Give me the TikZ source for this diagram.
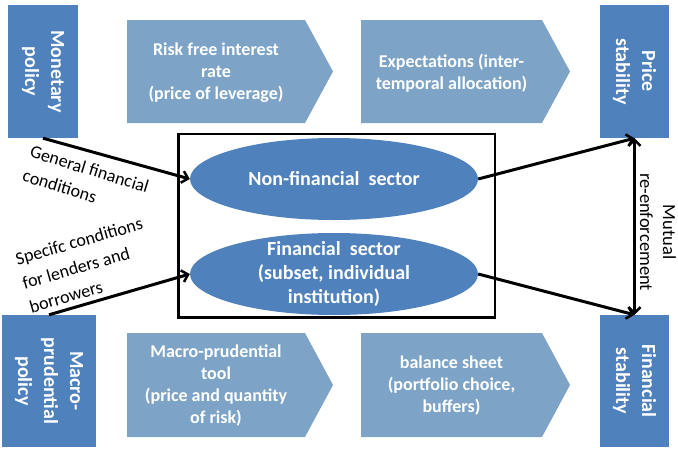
\documentclass[tikz,border=0pt]{standalone}
\usepackage{fontspec}
\setmainfont{Carlito}
\usetikzlibrary{arrows.meta,shapes.geometric}
\definecolor{boxblue}{RGB}{79,129,189}
\definecolor{chevblue}{RGB}{125,164,199}
\begin{document}
\begin{tikzpicture}[x=1pt,y=-1pt,
 pbox/.style={fill=boxblue, draw=none, rotate=-90, text=white, font=\fontsize{20}{26}\selectfont\bfseries, align=center, inner sep=0pt},
 chev/.style={fill=chevblue, draw=none},
 chevtext/.style={text=white, font=\fontsize{18}{22}\selectfont\bfseries, align=center, inner sep=0pt},
 sector/.style={ellipse, fill=boxblue, draw=none, minimum width=288pt, minimum height=82pt, inner sep=0pt},
 sectortext/.style={text=white, font=\fontsize{20}{24}\selectfont\bfseries, align=center, inner sep=0pt},
 barb/.tip={Straight Barb[length=6pt,width=12pt,line width=2.5pt]},
 link/.style={line width=3pt, -barb},
 lbl/.style={font=\fontsize{18}{25}\selectfont, align=left, inner sep=0pt}
]
\useasboundingbox (0,0) rectangle (678,450);

% policy and goal boxes
\node[pbox, minimum width=133pt, minimum height=70pt] (mon) at (43,71.5) {Monetary\\policy};
\node[pbox, minimum width=133pt, minimum height=69pt] (price) at (634.5,71.5) {Price\\stability};
\node[pbox, minimum width=132pt, minimum height=94pt] (macro) at (49,381) {Macro-\\prudential\\policy};
\node[pbox, minimum width=132pt, minimum height=69pt] (finstab) at (634.5,381) {Financial\\stability};

% chevrons
\fill[chev] (127,20) -- (305,20) -- (333,71.5) -- (305,123) -- (127,123) -- cycle;
\node[chevtext] (risk) at (216,73) {Risk free interest\\rate\\(price of leverage)};
\fill[chev] (361,20) -- (542,20) -- (570,71.5) -- (542,123) -- (361,123) -- cycle;
\node[chevtext] (expect) at (451.5,73) {Expectations (inter-\\temporal allocation)};
\fill[chev] (127,333) -- (305,333) -- (333,385) -- (305,437) -- (127,437) -- cycle;
\node[chevtext] (tool) at (216,386) {Macro-prudential\\tool\\(price and quantity\\of risk)};
\fill[chev] (361,333) -- (542,333) -- (570,385) -- (542,437) -- (361,437) -- cycle;
\node[chevtext] (bs) at (451.5,386) {balance sheet\\(portfolio choice,\\buffers)};

% central frame and sectors
\node[draw, line width=2.5pt, minimum width=316.5pt, minimum height=183.5pt, inner sep=0pt] (frame) at (336.5,225.5) {};
\node[sector] (nf) at (334,179) {};
\node[sectortext] (nft) at (nf.center) {Non-financial\ \ sector};
\node[sector] (fs) at (334,274) {};
\node[sectortext] (fst) at (fs.center) {Financial\ \ sector\\(subset, individual\\institution)};

% connectors
\draw[link] (mon.east) -- (nf.west);
\draw[link] (macro.west) -- (fs.west);
\draw[link] (nf.east) -- (price.east);
\draw[link] (fs.east) -- (finstab.west);
\draw[line width=3pt, barb-barb] (price.east) -- (finstab.west);

% labels
\node[lbl, rotate=-17] (gen) at (86,181) {General financial\\conditions};
\node[lbl, rotate=16] (spec) at (86,265) {Specifc conditions\\for lenders and\\borrowers};
\node[font=\fontsize{18.5}{23}\selectfont, rotate=-90, align=center, inner sep=0pt] (mut) at (658,232) {Mutual\\re-enforcement};
\end{tikzpicture}
\end{document}
